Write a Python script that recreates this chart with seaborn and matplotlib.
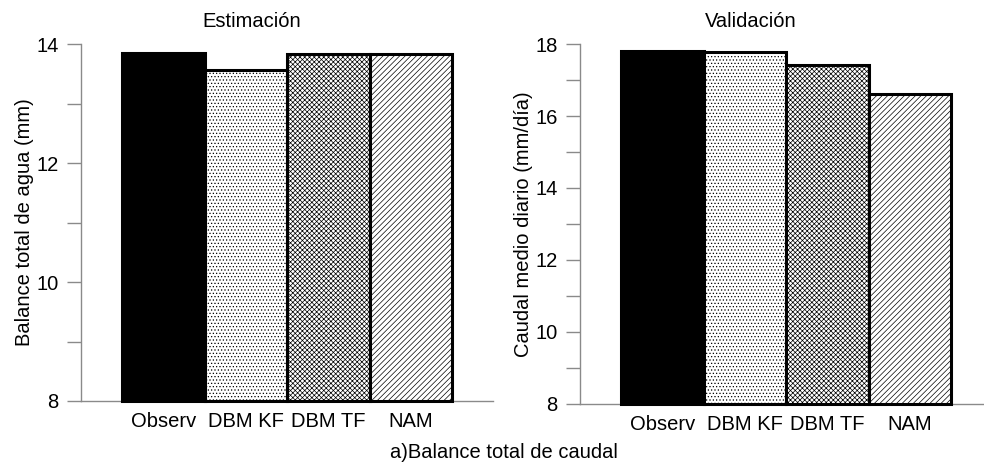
import matplotlib
matplotlib.use("Agg")
import matplotlib.pyplot as plt
import seaborn as sns
import pandas as pd
from matplotlib.ticker import MultipleLocator

# Modelos comparados
modelos = ["Observ", "DBM KF", "DBM TF", "NAM"]

# Balance total de agua (mm), periodo de estimación
balance_estimacion = [13.85, 13.56, 13.84, 13.84]

# Caudal medio diario (mm/día), periodo de validación
caudal_validacion = [17.80, 17.77, 17.42, 16.62]

rellenos = ["black", "white", "white", "white"]
tramas = ["", ".....", "xxxxxxx", "//////"]

sns.set_theme(style="ticks")
plt.rcParams["font.family"] = ["Liberation Sans", "DejaVu Sans"]
plt.rcParams["hatch.linewidth"] = 0.5
plt.rcParams["text.color"] = "black"
plt.rcParams["axes.labelcolor"] = "black"
plt.rcParams["xtick.labelcolor"] = "black"
plt.rcParams["ytick.labelcolor"] = "black"

FS = 14.5
GRIS = "#8a8a8a"

fig = plt.figure(figsize=(9.84, 4.69), dpi=100)
ax1 = fig.add_axes([0.0823, 0.145, 0.419, 0.761])
ax2 = fig.add_axes([0.5894, 0.139, 0.419, 0.767])


def panel(ax, valores, base, tope, ylabel):
    df = pd.DataFrame({"modelo": modelos, "valor": valores})
    sns.barplot(data=df, x="modelo", y="valor", hue="modelo",
                palette=rellenos, width=1.0, legend=False,
                edgecolor="black", linewidth=2.2, ax=ax)
    for barra, trama in zip(ax.patches, tramas):
        alto = barra.get_height()
        barra.set_y(base)
        barra.set_height(alto - base)
        barra.set_hatch(trama)
        barra.set_clip_on(False)
    ax.set_xlim(-1.0, 4.0)
    ax.set_ylim(base, tope)
    ax.yaxis.set_major_locator(MultipleLocator(2))
    ax.yaxis.set_minor_locator(MultipleLocator(1))
    ax.tick_params(axis="y", which="both", length=10, width=1,
                   color=GRIS, pad=6, labelsize=FS, labelcolor="black")
    ax.tick_params(axis="x", length=0, pad=8, labelsize=FS,
                   labelcolor="black")
    for lado in ("top", "right"):
        ax.spines[lado].set_visible(False)
    for lado in ("left", "bottom"):
        ax.spines[lado].set_color(GRIS)
        ax.spines[lado].set_linewidth(1.0)
        ax.spines[lado].set_zorder(0)
    ax.set_xlabel("")
    ax.set_ylabel(ylabel, fontsize=FS, labelpad=2, color="black")
    ax.set_facecolor("white")


panel(ax1, balance_estimacion, 8, 14, "Balance total de agua (mm)")
panel(ax2, caudal_validacion, 8, 18, "Caudal medio diario (mm/día)")

fig.text(0.256, 0.955, "Estimación", ha="center", va="center", fontsize=FS)
fig.text(0.763, 0.955, "Validación", ha="center", va="center", fontsize=FS)
fig.text(0.512, 0.036, "a)Balance total de caudal", ha="center",
         va="center", fontsize=FS)

fig.savefig("out.png", dpi=100, facecolor="white")
